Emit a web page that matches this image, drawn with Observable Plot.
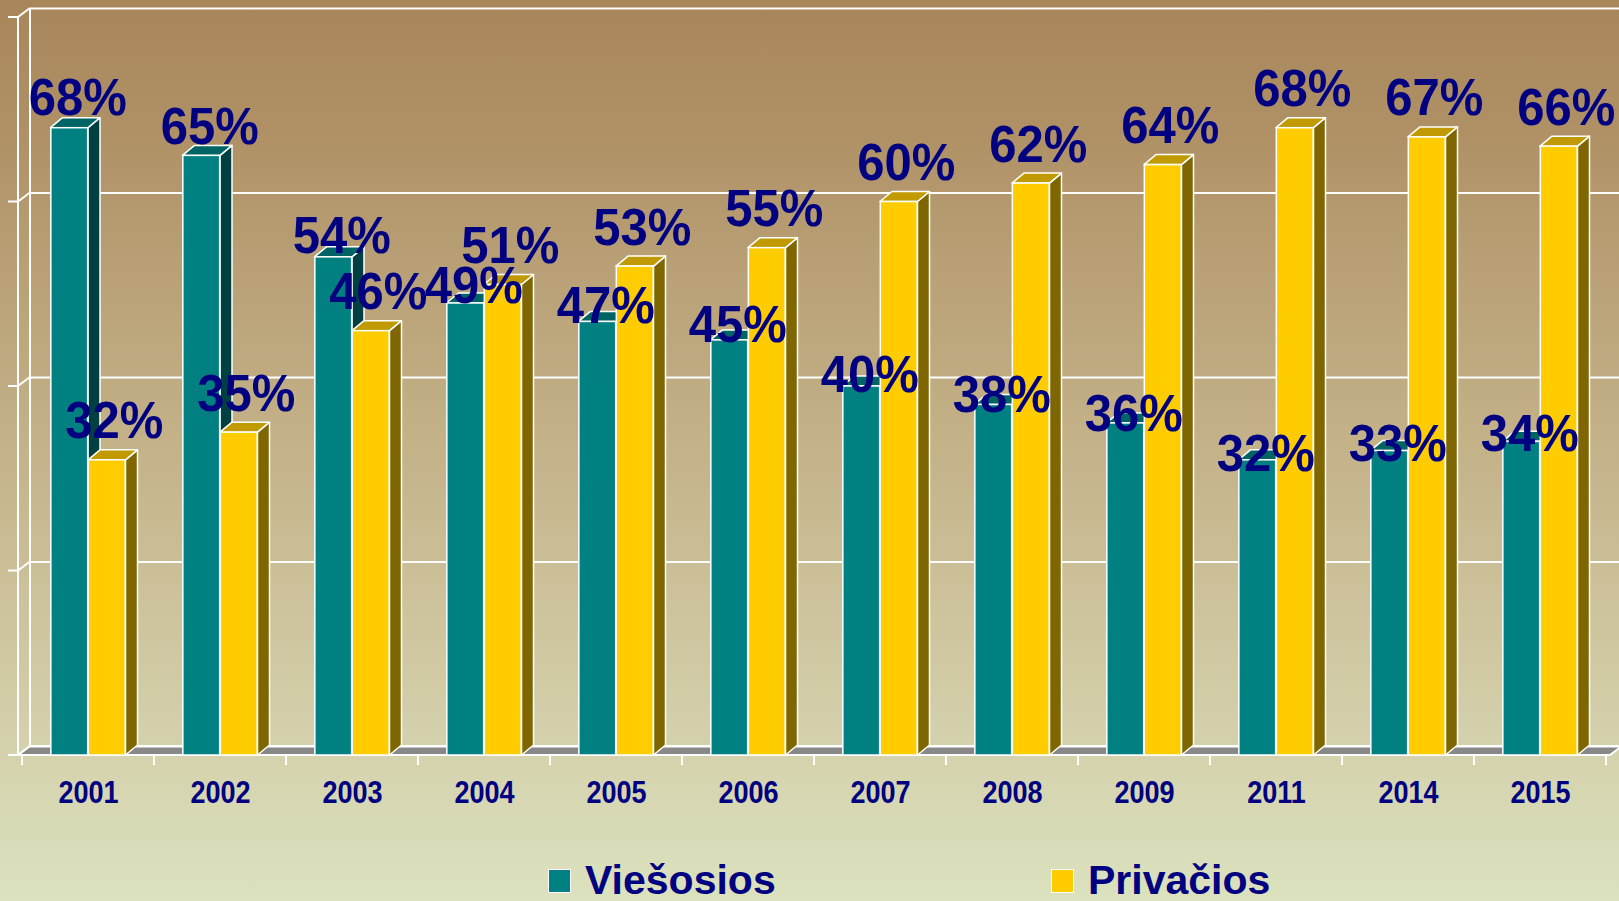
<!DOCTYPE html>
<html>
<head>
<meta charset="utf-8">
<script src="https://cdn.jsdelivr.net/npm/d3@7"></script>
<script src="https://cdn.jsdelivr.net/npm/@observablehq/plot@0.6"></script>
<style>
html, body { margin: 0; padding: 0; }
body {
  width: 1619px; height: 901px; overflow: hidden; position: relative;
  background: linear-gradient(to bottom, #a7865a 0%, #b09166 15%, #bca57b 35%, #c7b78e 55%, #d2cda8 78%, #dce2be 100%);
  font-family: "Liberation Sans", Arial, sans-serif;
}
#chart svg { display: block; }
#legend { position: relative; width: 1619px; height: 61px; }
.item { position: absolute; top: 0; height: 61px; }
.swatch { position: absolute; top: 29px; left: 0; width: 21px; height: 22px; border: 1.5px solid #fff; }
.label { position: absolute; top: 20px; left: 37px; font-size: 41px; line-height: 41px; font-weight: bold; color: #000080; white-space: nowrap; }
</style>
</head>
<body>
<div id="chart"></div>
<div id="legend"></div>
<script>
// ---- data ----
const years = ["2001","2002","2003","2004","2005","2006","2007","2008","2009","2011","2014","2015"];
const publicShare  = [68, 65, 54, 49, 47, 45, 40, 38, 36, 32, 33, 34];  // Viešosios
const privateShare = [32, 35, 46, 51, 53, 55, 60, 62, 64, 68, 67, 66];  // Privačios
const seriesNames  = ["Viešosios", "Privačios"];
const gridTicks    = [0, 20, 40, 60, 80];

// ---- styles ----
const frontColors = ["#008080", "#ffcc00"];
const topColors   = ["#006464", "#c09a00"];
const sideColors  = ["#004040", "#806600"];
const navy = "#000080";

const W = 1619, H = 840;
const mL = 18, mR = 9, mT = 17, mB = 85;
const bw = (W - mL - mR) / years.length;
const barW = 37.5;
const depthX = 12, depthY = -10;   // bar depth
const wallX = 12, wallY = -9;      // wall depth

const seriesValues = [publicShare, privateShare];
const rowsFor = s => years.map((year, i) => ({year, value: seriesValues[s][i]}));

// floor, walls, connectors, ticks
function frame3d(index, scales) {
  const g = d3.create("svg:g");
  const y0 = scales.y(0), yTop = scales.y(d3.max(gridTicks));
  const xR = W - mR;
  g.append("path")
    .attr("d", `M${mL},${y0}L${xR},${y0}L${xR + wallX},${y0 + wallY}L${mL + wallX},${y0 + wallY}Z`)
    .attr("fill", "#888888").attr("stroke", "white").attr("stroke-width", 2);
  const line = (x1, y1, x2, y2) => g.append("line")
    .attr("x1", x1).attr("y1", y1).attr("x2", x2).attr("y2", y2)
    .attr("stroke", "white").attr("stroke-width", 2);
  line(mL, yTop, mL, y0);
  line(mL + wallX, yTop + wallY, mL + wallX, y0 + wallY);
  for (const t of gridTicks) {
    const y = scales.y(t);
    line(mL - 10, y, mL, y);
    line(mL, y, mL + wallX, y + wallY);
  }
  const edges = years.map(yr => scales.x(yr)).concat([scales.x(years[years.length - 1]) + scales.x.bandwidth()]);
  for (const x of edges) line(x, y0, x, y0 + 10);
  return g.node();
}

// side + top faces of the 3-D bars
function faces3d(s) {
  return (index, scales) => {
    const g = d3.create("svg:g");
    const band = scales.x.bandwidth();
    const y0 = scales.y(0);
    years.forEach((yr, i) => {
      const c = scales.x(yr) + band / 2;
      const xl = s === 0 ? c - barW : c;
      const xr = xl + barW;
      const yt = scales.y(seriesValues[s][i]);
      g.append("path")
        .attr("d", `M${xr},${yt}L${xr + depthX},${yt + depthY}L${xr + depthX},${y0 + depthY}L${xr},${y0}Z`)
        .attr("fill", sideColors[s]).attr("stroke", "white").attr("stroke-width", 1.5).attr("stroke-linejoin", "round");
      g.append("path")
        .attr("d", `M${xl},${yt}L${xl + depthX},${yt + depthY}L${xr + depthX},${yt + depthY}L${xr},${yt}Z`)
        .attr("fill", topColors[s]).attr("stroke", "white").attr("stroke-width", 1.5).attr("stroke-linejoin", "round");
    });
    return g.node();
  };
}

const barMarks = s => [
  faces3d(s),
  Plot.barY(rowsFor(s), {
    x: "year", y: "value", fill: frontColors[s], stroke: "white", strokeWidth: 1.5,
    insetLeft: s === 0 ? bw / 2 - barW : bw / 2,
    insetRight: s === 0 ? bw / 2 : bw / 2 - barW
  })
];

// label placement: the public-share labels rise slightly faster than the bars (as in the source chart)
const labelLift = v => v * 1.073 - 3.5;
const labelMarks = [
  Plot.text(rowsFor(0), {x: "year", y: d => labelLift(d.value), text: d => d.value + "%", dx: -barW / 2 + 8,
    lineAnchor: "bottom", fontSize: 49, fontWeight: "bold", fill: navy}),
  Plot.text(rowsFor(1), {x: "year", y: "value", text: d => d.value + "%", dx: barW / 2 + 7, dy: -22,
    lineAnchor: "bottom", fontSize: 49, fontWeight: "bold", fill: navy})
];

const chart = Plot.plot({
  width: W, height: H,
  marginLeft: mL, marginRight: mR, marginTop: mT, marginBottom: mB,
  style: {background: "transparent", color: navy, fontFamily: "'Liberation Sans', Arial, sans-serif", overflow: "visible"},
  x: {type: "band", domain: years, padding: 0, label: null},
  y: {domain: [0, 80], axis: null},
  marks: [
    frame3d,
    Plot.ruleY(gridTicks, {dx: wallX, dy: wallY, stroke: "white", strokeWidth: 2}),
    ...barMarks(0),
    ...barMarks(1),
    Plot.axisX({tickSize: 0, tickPadding: 25, fontSize: 27, fontWeight: "bold", fill: navy, label: null}),
    ...labelMarks
  ]
});

function stretch(el, s) {
  const t = el.getAttribute("transform");
  if (t) el.setAttribute("transform", `${t} scale(1,${s})`);
  else {
    const x = parseFloat(el.getAttribute("x")) || 0, y = parseFloat(el.getAttribute("y")) || 0;
    el.setAttribute("transform", `translate(${x},${y}) scale(1,${s}) translate(${-x},${-y})`);
  }
}
d3.select(chart).selectAll('g[aria-label="text"] text').each(function () { stretch(this, 1.06); });
d3.select(chart).selectAll('g[aria-label="x-axis tick label"] text').each(function () { stretch(this, 1.19); });

document.getElementById("chart").appendChild(chart);

// legend
const legendLeft = [548, 1051];
const legend = d3.select("#legend");
seriesNames.forEach((name, s) => {
  const item = legend.append("div").attr("class", "item").style("left", legendLeft[s] + "px");
  item.append("div").attr("class", "swatch").style("background", frontColors[s]);
  item.append("div").attr("class", "label").text(name);
});
</script>
</body>
</html>
